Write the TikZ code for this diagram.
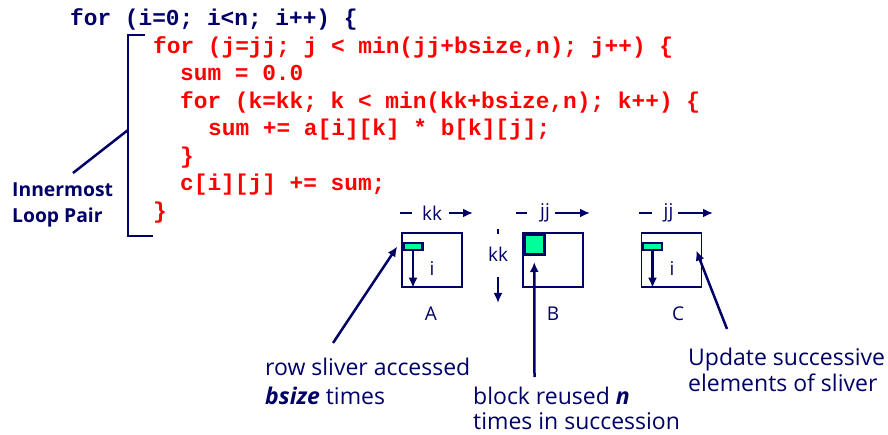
\documentclass[tikz,border=0pt]{standalone}
\usepackage{fontspec}
\setsansfont{Open Sans}
\newfontfamily\codefont{Liberation Mono}
\usepackage{tikz}
\usetikzlibrary{arrows.meta,positioning}
\definecolor{navy}{RGB}{0,0,102}
\definecolor{mint}{RGB}{0,255,153}
\tikzset{>={Latex[length=10pt,width=9pt]}}
\tikzset{
  code/.style={font=\codefont\bfseries\fontsize{22.8}{27}\selectfont, text=red, anchor=base west, inner sep=0pt},
  note/.style={font=\sffamily\fontsize{23}{28}\selectfont, text=navy, inner sep=0pt},
  tag/.style={font=\sffamily\fontsize{19}{22}\selectfont, text=navy, inner sep=0pt},
  mat/.style={draw=navy, line width=1.5pt, minimum width=60pt, minimum height=54pt, inner sep=0pt},
  sliv/.style={draw=navy, fill=mint, line width=2.5pt, minimum width=19pt, minimum height=7pt, inner sep=0pt, anchor=north west},
  ptr/.style={->, draw=navy, line width=2.5pt},
  bar/.style={draw=navy, line width=2.5pt}
}

\begin{document}
\begin{tikzpicture}[x=1pt,y=-1pt]
\useasboundingbox (0,0) rectangle (888,435);

% the loop nest
\node[code, text=navy] (l1) at (70,26) {for (i=0; i<n; i++) \{};
\node[code] (l2) at (153,53.5) {for (j=jj; j < min(jj+bsize,n); j++) \{};
\node[code] (l3) at (180,81) {sum = 0.0};
\node[code] (l4) at (180,108.5) {for (k=kk; k < min(kk+bsize,n); k++) \{};
\node[code] (l5) at (208,136) {sum += a[i][k] * b[k][j];};
\node[code] (l6) at (180,163.5) {\}};
\node[code] (l7) at (180,191) {c[i][j] += sum;};
\node[code] (l8) at (153,218.5) {\}};

% bracket round the inner pair
\coordinate (bt) at (128,35);
\coordinate (bb) at (128,236);
\coordinate (bm) at (128,130);
\draw[bar] (145,35) -- (bt) -- (bb) -- (153,236);
\node[note, font=\sffamily\bfseries\fontsize{19.3}{26}\selectfont, anchor=base west] (inner1) at (12,197) {Innermost};
\node[note, font=\sffamily\bfseries\fontsize{19.3}{26}\selectfont, below=26pt of inner1.base west, anchor=base west] (inner2) {Loop Pair};
\coordinate (im) at (73,173);
\draw[bar] (bm) -- (im);

% the three matrices
\node[mat] (ma) at (432,260) {};
\node[mat] (mb) at (553,260) {};
\node[mat] (mc) at (671.5,260) {};

\node[sliv] (sa) at ([shift={(1pt,-9.5pt)}]ma.north west) {};
\node[sliv, line width=3pt, minimum width=20pt, minimum height=20pt] (sb) at ([shift={(0.5pt,-0.75pt)}]mb.north west) {};
\node[sliv] (sc) at ([shift={(1pt,-9.5pt)}]mc.north west) {};

\draw[ptr] (sa.south) -- (sa.south |- ma.south);
\draw[ptr] (sc.south) -- (sc.south |- mc.south);

\node[tag] (ia) at (432,269) {i};
\node[tag] (ic) at (672,269) {i};

% index directions
\node[tag] (ka) at (432,213) {kk};
\draw[bar] ([xshift=-32pt]ka.center) -- ([xshift=-20pt]ka.center);
\draw[ptr] ([xshift=17pt]ka.center) -- ([xshift=41pt]ka.center);

\node[tag] (jb) at (545,213) {jj};
\draw[bar] ([xshift=-29pt]jb.center) -- ([xshift=-18pt]jb.center);
\draw[ptr] ([xshift=10pt]jb.center) -- ([xshift=45pt]jb.center);

\node[tag] (jc) at (668.5,213) {jj};
\draw[bar] ([xshift=-29.5pt]jc.center) -- ([xshift=-16.5pt]jc.center);
\draw[ptr] ([xshift=9.5pt]jc.center) -- ([xshift=44.5pt]jc.center);

\node[tag] (kb) at (498,254) {kk};
\draw[bar] ([yshift=25pt]kb.center) -- ([yshift=20pt]kb.center);
\draw[ptr] ([yshift=-23pt]kb.center) -- ([yshift=-49pt]kb.center);

\node[tag] (na) at (431,314) {A};
\node[tag] (nb) at (553,314) {B};
\node[tag] (nc) at (678,314) {C};

% notes
\node[note, anchor=base west] (row1) at (265,375.5) {row sliver accessed};
\node[note, below=28.5pt of row1.base west, anchor=base west] (row2) {\textbf{\textit{bsize}} times};
\node[note, anchor=base west] (blk1) at (473,404) {block reused \textbf{\textit{n}}};
\node[note, below=25pt of blk1.base west, anchor=base west] (blk2) {times in succession};
\node[note, anchor=base west] (upd1) at (688,365.5) {Update successive};
\node[note, below=26pt of upd1.base west, anchor=base west] (upd2) {elements of sliver};

\coordinate (pa) at (333,343);
\coordinate (pb) at (534.5,377);
\coordinate (pc) at (727,329);
\draw[ptr] (pa) -- ([xshift=-5pt]sa.west);
\draw[ptr] (pb) -- ([yshift=-6pt]sb.south);
\draw[ptr] (pc) -- ([shift={(33pt,-4pt)}]sc.east);
\end{tikzpicture}
\end{document}
